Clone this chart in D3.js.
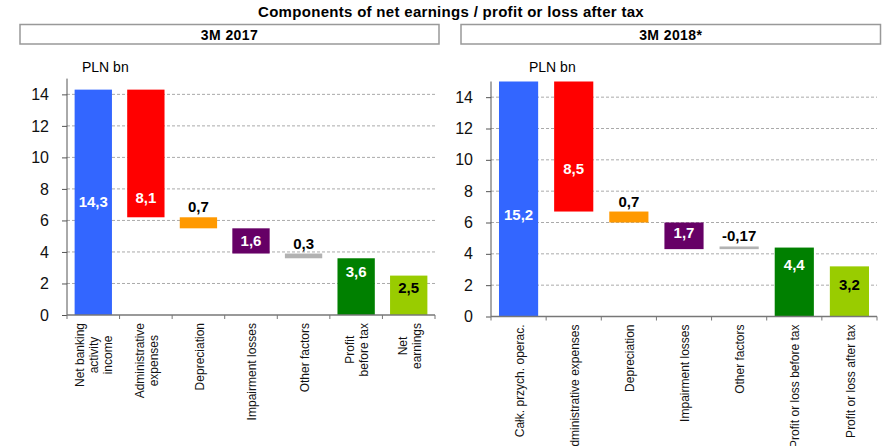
<!DOCTYPE html>
<html lang="en">
<head>
    <meta charset="UTF-8"/>
    <title>Components of net earnings</title>
    <script src="https://d3js.org/d3.v7.min.js"></script>
    <style>
        body { margin: 0; background: white; }
        text { font-family: Arial, "Liberation Sans", sans-serif; }
    </style>
</head>
<body>
    <script>
        var w = 888;
        var h = 446;

        var title = "Components of net earnings / profit or loss after tax";
        var unitLabel = "PLN bn";
        var yTicks = [0, 2, 4, 6, 8, 10, 12, 14];

        // 3M 2017
        var head2017 = "3M 2017";
        var cats2017 = [["Net banking", "activity", "income"], ["Administrative", "expenses"], ["Depreciation"],
                        ["Impairment losses"], ["Other factors"], ["Profit", "before tax"], ["Net", "earnings"]];
        var vals2017 = [14.3, -8.1, -0.7, -1.6, -0.3, 3.6, 2.5];
        var labels2017 = ["14,3", "8,1", "0,7", "1,6", "0,3", "3,6", "2,5"];

        // 3M 2018
        var head2018 = "3M 2018*";
        var cats2018 = [["Całk. przych. operac."], ["Administrative expenses"], ["Depreciation"],
                        ["Impairment losses"], ["Other factors"], ["Profit or loss before tax"], ["Profit or loss after tax"]];
        var vals2018 = [15.2, -8.5, -0.7, -1.7, 0.17, 4.4, 3.2];
        var labels2018 = ["15,2", "8,5", "0,7", "1,7", "-0,17", "4,4", "3,2"];

        // bar kind: total bars start from zero, step bars float
        var kinds = ["total", "step", "step", "step", "step", "total", "total"];
        var colors = ["#3366ff", "#ff0000", "#ff9900", "#660066", "#b2b2b2", "#008000", "#99cc00"];
        var labelColors = ["white", "white", "black", "white", "black", "white", "black"];
        // where the label sits along the bar (null = above the bar)
        var labelFrac2017 = [0.5, 0.15, null, 0.5, null, 0.76, 0.68];
        var labelFrac2018 = [0.43, 0.33, null, 0.6, null, 0.75, 0.63];

        var svg = d3.select("body")
                    .append("svg")
                    .attr("width", w)
                    .attr("height", h);

        svg.append("text")
           .attr("x", 451)
           .attr("y", 17)
           .attr("text-anchor", "middle")
           .attr("font-weight", "bold")
           .attr("font-size", "15px")
           .attr("letter-spacing", "0.3px")
           .text(title);

        function drawPanel(p) {
            // header box
            svg.append("rect")
               .attr("x", p.boxX0).attr("y", 24.5)
               .attr("width", p.boxX1 - p.boxX0).attr("height", 19.5)
               .attr("fill", "white").attr("stroke", "#999").attr("stroke-width", 1.5);
            svg.append("text")
               .attr("x", (p.boxX0 + p.boxX1) / 2).attr("y", 39.5)
               .attr("text-anchor", "middle").attr("font-weight", "bold").attr("font-size", "14px")
               .attr("letter-spacing", "0.4px")
               .text(p.head);

            svg.append("text")
               .attr("x", p.unitX).attr("y", 72)
               .attr("font-size", "14px")
               .text(unitLabel);

            var xScale = d3.scaleBand()
                           .domain(d3.range(p.vals.length))
                           .range([p.left, p.right])
                           .paddingInner(0.29)
                           .paddingOuter(0.145);

            var yScale = d3.scaleLinear()
                           .domain([0, 15])
                           .range([p.zero, p.top])
                           .clamp(true);

            // gridlines
            svg.selectAll(null)
               .data(yTicks.slice(1))
               .enter()
               .append("line")
               .attr("x1", p.left).attr("x2", p.right)
               .attr("y1", function(d) { return yScale(d); })
               .attr("y2", function(d) { return yScale(d); })
               .attr("stroke", "#aaa").attr("stroke-dasharray", "3,2");

            // waterfall bars
            var running = 0;
            var bars = p.vals.map(function(v, i) {
                var lo, hi;
                if (kinds[i] === "total") {
                    lo = 0; hi = v; running = v;
                } else {
                    lo = Math.min(running, running + v);
                    hi = Math.max(running, running + v);
                    running = running + v;
                }
                return { i: i, lo: lo, hi: hi, label: p.labels[i], frac: p.fracs[i] };
            });

            svg.selectAll(null)
               .data(bars)
               .enter()
               .append("rect")
               .attr("x", function(d) { return xScale(d.i); })
               .attr("width", xScale.bandwidth())
               .attr("y", function(d) { return yScale(d.hi); })
               .attr("height", function(d) { return yScale(d.lo) - yScale(d.hi); })
               .attr("fill", function(d) { return colors[d.i]; });

            svg.selectAll(null)
               .data(bars)
               .enter()
               .append("text")
               .attr("x", function(d) { return xScale(d.i) + xScale.bandwidth() / 2; })
               .attr("y", function(d) {
                   if (d.frac === null) return yScale(d.hi) - 5;
                   var top = yScale(d.hi), bot = yScale(d.lo);
                   return bot - (bot - top) * d.frac + 5;
               })
               .attr("text-anchor", "middle")
               .attr("font-weight", "bold")
               .attr("font-size", "15px")
               .attr("fill", function(d) { return labelColors[d.i]; })
               .text(function(d) { return d.label; });

            // y axis
            var yAxis = d3.axisLeft(yScale)
                          .tickValues(yTicks)
                          .tickSize(5)
                          .tickPadding(p.tickPad);
            var gy = svg.append("g")
                        .attr("transform", "translate(" + p.left + ",0)")
                        .call(yAxis);
            gy.select(".domain").attr("stroke", "#555").attr("d", "M0," + p.top + "V" + p.zero);
            gy.selectAll(".tick line").attr("stroke", "#555");
            gy.selectAll(".tick text").attr("font-size", "16px").attr("fill", "#111")
              .attr("font-family", "Arial, 'Liberation Sans', sans-serif");

            // x axis with ticks between categories
            svg.append("line")
               .attr("x1", p.left).attr("x2", p.right)
               .attr("y1", p.zero).attr("y2", p.zero)
               .attr("stroke", "#777").attr("stroke-width", 1.5);
            var step = xScale.step();
            svg.selectAll(null)
               .data(d3.range(p.vals.length + 1))
               .enter()
               .append("line")
               .attr("x1", function(d) { return p.left + d * step; })
               .attr("x2", function(d) { return p.left + d * step; })
               .attr("y1", p.zero).attr("y2", p.zero + 4)
               .attr("stroke", "#777");

            // category labels, rotated
            var cg = svg.selectAll(null)
                        .data(p.cats)
                        .enter()
                        .append("text")
                        .attr("font-size", "12px")
                        .attr("fill", "#111")
                        .attr("text-anchor", "middle");
            cg.each(function(lines, i) {
                var t = d3.select(this);
                var n = lines.length;
                lines.forEach(function(line, j) {
                    t.append("tspan")
                     .attr("x", 0)
                     .attr("y", (j - (n - 1) / 2) * 14)
                     .attr("dy", "0.35em")
                     .text(line);
                });
                var maxW = 0;
                t.selectAll("tspan").each(function() {
                    maxW = Math.max(maxW, this.getComputedTextLength());
                });
                var cx = xScale(i) + xScale.bandwidth() / 2 + 1;
                var cy = p.zero + 8 + maxW / 2;
                t.attr("transform", "translate(" + cx + "," + cy + ") rotate(-90)");
            });
        }

        drawPanel({
            head: head2017, cats: cats2017, vals: vals2017, labels: labels2017, fracs: labelFrac2017,
            boxX0: 20, boxX1: 439, unitX: 82,
            left: 67, right: 435, zero: 315, top: 78.6, tickPad: 13
        });

        drawPanel({
            head: head2018, cats: cats2018, vals: vals2018, labels: labels2018, fracs: labelFrac2018,
            boxX0: 461, boxX1: 880.5, unitX: 529,
            left: 491, right: 877, zero: 316.5, top: 81.5, tickPad: 13
        });
    </script>
</body>
</html>
